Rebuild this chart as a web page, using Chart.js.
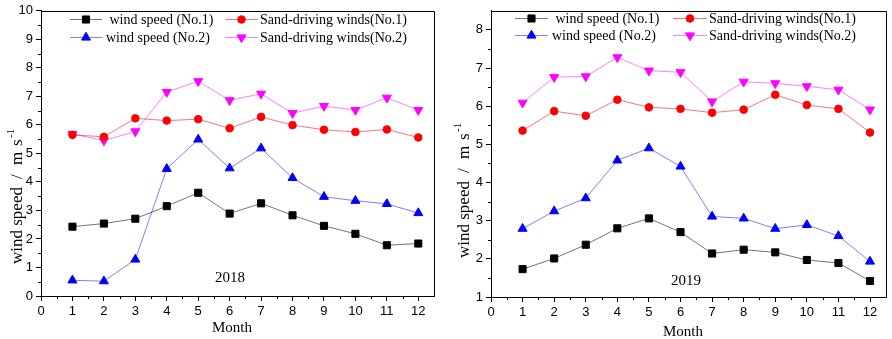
<!DOCTYPE html>
<html>
<head>
<meta charset="utf-8">
<script src="https://cdn.jsdelivr.net/npm/chart.js@4"></script>
<style>
  html, body { margin: 0; padding: 0; background: #fff; }
  #wrap { position: relative; width: 892px; height: 339px; overflow: hidden; }
  canvas { position: absolute; top: 0; }
</style>
</head>
<body>
<div id="wrap">
  <canvas id="c2018" width="450" height="339" style="left:0px"></canvas>
  <canvas id="c2019" width="442" height="339" style="left:450px"></canvas>
</div>
<script>
// ---------------- DATA ----------------
const months = [1, 2, 3, 4, 5, 6, 7, 8, 9, 10, 11, 12];
const xTickValues = [0, 1, 2, 3, 4, 5, 6, 7, 8, 9, 10, 11, 12];
const yTicks2018 = [0, 1, 2, 3, 4, 5, 6, 7, 8, 9, 10];
const yTicks2019 = [1, 2, 3, 4, 5, 6, 7, 8];
const seriesNames = [' wind speed (No.1)', 'wind speed (No.2)', 'Sand-driving winds(No.1)', 'Sand-driving winds(No.2)'];

const wind1_2018 = [2.43, 2.54, 2.71, 3.15, 3.62, 2.89, 3.25, 2.83, 2.46, 2.18, 1.78, 1.84];
const wind2_2018 = [0.55, 0.52, 1.28, 4.46, 5.49, 4.48, 5.18, 4.14, 3.48, 3.34, 3.23, 2.91];
const sand1_2018 = [5.65, 5.58, 6.23, 6.15, 6.20, 5.88, 6.28, 5.99, 5.83, 5.75, 5.84, 5.56];
const sand2_2018 = [5.68, 5.45, 5.77, 7.15, 7.53, 6.86, 7.09, 6.41, 6.66, 6.52, 6.95, 6.52];

const wind1_2019 = [1.73, 2.01, 2.37, 2.80, 3.06, 2.70, 2.14, 2.24, 2.17, 1.97, 1.89, 1.42];
const wind2_2019 = [2.79, 3.25, 3.59, 4.58, 4.90, 4.42, 3.11, 3.06, 2.79, 2.89, 2.60, 1.93];
const sand1_2019 = [5.36, 5.87, 5.75, 6.17, 5.97, 5.93, 5.83, 5.91, 6.30, 6.03, 5.93, 5.31];
const sand2_2019 = [6.09, 6.76, 6.78, 7.28, 6.93, 6.89, 6.12, 6.64, 6.60, 6.52, 6.43, 5.91];

// ---------------- STYLE ----------------
const styles = [
  { line: 'rgba(0,0,0,0.55)',   fill: '#000000', pointStyle: 'rect',     radius: 5,   rotation: 0 },
  { line: 'rgba(0,0,255,0.5)',  fill: '#0000ff', pointStyle: 'triangle', radius: 5.2, rotation: 0 },
  { line: 'rgba(255,0,0,0.55)', fill: '#ff0000', pointStyle: 'circle',   radius: 3.8, rotation: 0 },
  { line: 'rgba(255,0,255,0.5)',fill: '#ff00ff', pointStyle: 'triangle', radius: 5.2, rotation: 180 }
];
const SERIF = '"Liberation Serif", "Times New Roman", serif';
const SANS = '"Liberation Sans", Arial, sans-serif';

function makeDatasets(arrs) {
  return arrs.map((arr, i) => ({
    label: seriesNames[i],
    data: months.map((m, k) => ({ x: m, y: arr[k] })),
    borderColor: styles[i].line,
    borderWidth: 1,
    backgroundColor: styles[i].fill,
    pointBackgroundColor: styles[i].fill,
    pointBorderColor: styles[i].fill,
    pointBorderWidth: 1,
    pointStyle: styles[i].pointStyle,
    pointRadius: styles[i].radius,
    pointRotation: styles[i].rotation,
    pointHoverRadius: styles[i].radius,
    tension: 0,
    clip: false
  }));
}

const decorPlugin = {
  id: 'decor',
  afterDraw(chart, args, o) {
    const ctx = chart.ctx;
    const ca = chart.chartArea;
    const xs = chart.scales.x, ys = chart.scales.y;
    ctx.save();
    // frame
    ctx.strokeStyle = '#000';
    ctx.lineWidth = 1;
    ctx.beginPath();
    ctx.rect(Math.round(ca.left) + 0.5, Math.round(ca.top) + 0.5,
             Math.round(ca.right - ca.left), Math.round(ca.bottom - ca.top));
    ctx.stroke();
    // minor ticks
    ctx.beginPath();
    for (let v = xs.min + 0.5; v < xs.max; v += 1) {
      const px = Math.round(xs.getPixelForValue(v)) + 0.5;
      ctx.moveTo(px, ca.bottom); ctx.lineTo(px, ca.bottom + 3);
    }
    for (let v = ys.min + 0.5; v < ys.max; v += 1) {
      const py = Math.round(ys.getPixelForValue(v)) + 0.5;
      ctx.moveTo(ca.left, py); ctx.lineTo(ca.left - 3, py);
    }
    ctx.stroke();
    // legend
    ctx.font = '14px ' + SERIF;
    ctx.textBaseline = 'middle';
    ctx.textAlign = 'left';
    chart.data.datasets.forEach((ds, i) => {
      const L = o.legend[i];
      ctx.strokeStyle = styles[i].line;
      ctx.lineWidth = 1;
      ctx.beginPath();
      ctx.moveTo(L.x0, L.y + 0.5); ctx.lineTo(L.x1, L.y + 0.5);
      ctx.stroke();
      ctx.fillStyle = styles[i].fill;
      ctx.strokeStyle = styles[i].fill;
      Chart.helpers.drawPoint(ctx, {
        pointStyle: styles[i].pointStyle,
        radius: styles[i].radius,
        rotation: styles[i].rotation,
        borderWidth: 1
      }, (L.x0 + L.x1) / 2, L.y + 0.5);
      ctx.fillStyle = '#000';
      ctx.fillText(ds.label, L.tx, L.y + 1);
    });
    // year label
    ctx.font = '15px ' + SERIF;
    ctx.textAlign = 'center';
    ctx.fillStyle = '#000';
    ctx.fillText(o.year.text, o.year.x, o.year.y);
    // x title
    ctx.fillText('Month', o.month.x, o.month.y);
    // y title (rotated, with superscript)
    ctx.translate(o.ytitle.x, o.ytitle.y);
    ctx.rotate(-Math.PI / 2);
    ctx.textAlign = 'left';
    ctx.font = '17px ' + SERIF;
    const pieces = [['wind speed', 0], ['/', 85], ['m', 99], ['s', 118]];
    pieces.forEach(p => ctx.fillText(p[0], p[1], 0));
    ctx.font = '11px ' + SERIF;
    ctx.fillText('-1', 126, -7);
    ctx.restore();
  }
};

function makeChart(id, arrs, cfg) {
  return new Chart(document.getElementById(id), {
    type: 'line',
    data: { datasets: makeDatasets(arrs) },
    options: {
      responsive: false,
      devicePixelRatio: 1,
      animation: false,
      events: [],
      layout: { padding: cfg.padding },
      plugins: {
        legend: { display: false },
        tooltip: { enabled: false },
        decor: cfg.decor
      },
      scales: {
        x: {
          type: 'linear',
          min: 0, max: 12.5,
          afterBuildTicks: s => { s.ticks = xTickValues.map(v => ({ value: v })); },
          afterFit: s => { s.height = cfg.xHeight; },
          grid: { display: true, drawOnChartArea: false, drawTicks: true, tickLength: 5, tickColor: '#000', tickWidth: 1 },
          border: { display: true, color: '#000', width: 1 },
          ticks: { font: { family: SANS, size: 13 }, color: '#000', padding: 3, maxRotation: 0, autoSkip: false }
        },
        y: {
          type: 'linear',
          min: cfg.ymin, max: cfg.ymax,
          afterBuildTicks: s => { s.ticks = cfg.yTicks.map(v => ({ value: v })); },
          afterFit: s => { s.width = cfg.yWidth; },
          grid: { display: true, drawOnChartArea: false, drawTicks: true, tickLength: 5, tickColor: '#000', tickWidth: 1 },
          border: { display: true, color: '#000', width: 1 },
          ticks: { font: { family: SANS, size: 13 }, color: '#000', padding: 3, autoSkip: false }
        }
      }
    },
    plugins: [decorPlugin]
  });
}

makeChart('c2018', [wind1_2018, wind2_2018, sand1_2018, sand2_2018], {
  padding: { left: 0, top: 5, right: 16, bottom: 0 },
  xHeight: 43, yWidth: 41,
  ymin: 0, ymax: 10, yTicks: yTicks2018,
  decor: {
    legend: [
      { x0: 70, x1: 102, y: 19, tx: 106 },
      { x0: 70, x1: 102, y: 37, tx: 106 },
      { x0: 225, x1: 258, y: 19, tx: 260 },
      { x0: 225, x1: 258, y: 37, tx: 260 }
    ],
    year: { text: '2018', x: 230, y: 278 },
    month: { x: 232, y: 328 },
    ytitle: { x: 18, y: 264 }
  }
});

makeChart('c2019', [wind1_2019, wind2_2019, sand1_2019, sand2_2019], {
  padding: { left: 0, top: 1, right: 2, bottom: 0 },
  xHeight: 42, yWidth: 41,
  ymin: 1, ymax: 8.5, yTicks: yTicks2019,
  decor: {
    legend: [
      { x0: 65, x1: 98, y: 18, tx: 102 },
      { x0: 65, x1: 98, y: 35, tx: 102 },
      { x0: 223, x1: 257, y: 18, tx: 259 },
      { x0: 223, x1: 257, y: 35, tx: 259 }
    ],
    year: { text: '2019', x: 236, y: 281 },
    month: { x: 233, y: 332 },
    ytitle: { x: 15, y: 258 }
  }
});
</script>
</body>
</html>
